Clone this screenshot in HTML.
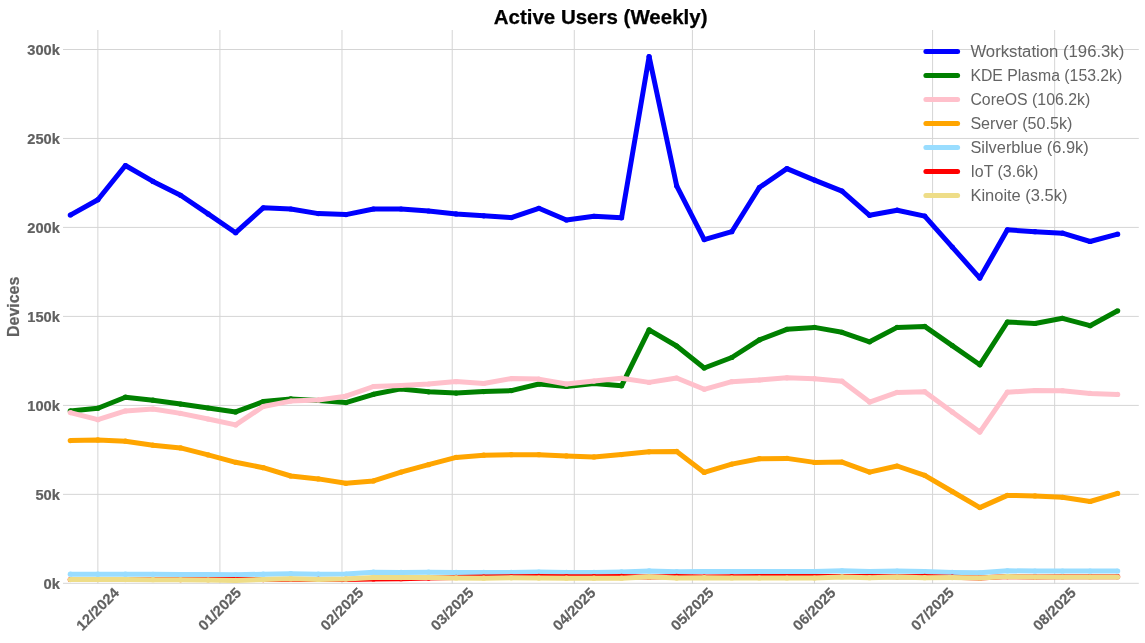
<!DOCTYPE html>
<html><head><meta charset="utf-8"><title>Active Users (Weekly)</title>
<style>html,body{margin:0;padding:0;background:#fff;}body{width:1145px;height:643px;overflow:hidden;}svg{display:block;will-change:transform;}text{font-family:"Liberation Sans",sans-serif;}.b{stroke:#616161;stroke-width:0.2px;}.t{stroke:#000;stroke-width:0.25px;}</style></head><body>
<svg width="1145" height="643" viewBox="0 0 1145 643">
<rect x="0" y="0" width="1145" height="643" fill="#ffffff"/>
<g stroke="#d5d5d5" stroke-width="1" fill="none">
<line x1="97.86" y1="30.0" x2="97.86" y2="583.8"/>
<line x1="219.92" y1="30.0" x2="219.92" y2="583.8"/>
<line x1="341.98" y1="30.0" x2="341.98" y2="583.8"/>
<line x1="452.23" y1="30.0" x2="452.23" y2="583.8"/>
<line x1="574.29" y1="30.0" x2="574.29" y2="583.8"/>
<line x1="692.41" y1="30.0" x2="692.41" y2="583.8"/>
<line x1="814.47" y1="30.0" x2="814.47" y2="583.8"/>
<line x1="932.59" y1="30.0" x2="932.59" y2="583.8"/>
<line x1="1054.65" y1="30.0" x2="1054.65" y2="583.8"/>
<line x1="63.0" y1="49.5" x2="1138.8" y2="49.5"/>
<line x1="63.0" y1="138.45" x2="1138.8" y2="138.45"/>
<line x1="63.0" y1="227.4" x2="1138.8" y2="227.4"/>
<line x1="63.0" y1="316.4" x2="1138.8" y2="316.4"/>
<line x1="63.0" y1="405.4" x2="1138.8" y2="405.4"/>
<line x1="63.0" y1="494.35" x2="1138.8" y2="494.35"/>
<line x1="63.0" y1="583.3" x2="1138.8" y2="583.3"/>
</g>
<text class="t" x="600.6" y="24.1" font-size="19.8" font-weight="bold" fill="#000" text-anchor="middle" textLength="213.7" lengthAdjust="spacingAndGlyphs">Active Users (Weekly)</text>
<text class="b" transform="translate(19.3 306.8) rotate(-90)" font-size="16" font-weight="bold" fill="#616161" text-anchor="middle" textLength="60.2" lengthAdjust="spacingAndGlyphs">Devices</text>
<text class="b" x="59.9" y="55.2" font-size="14" font-weight="bold" fill="#616161" text-anchor="end" textLength="32.6" lengthAdjust="spacingAndGlyphs">300k</text>
<text class="b" x="59.9" y="144.2" font-size="14" font-weight="bold" fill="#616161" text-anchor="end" textLength="32.6" lengthAdjust="spacingAndGlyphs">250k</text>
<text class="b" x="59.9" y="233.2" font-size="14" font-weight="bold" fill="#616161" text-anchor="end" textLength="32.6" lengthAdjust="spacingAndGlyphs">200k</text>
<text class="b" x="59.9" y="322.2" font-size="14" font-weight="bold" fill="#616161" text-anchor="end" textLength="32.6" lengthAdjust="spacingAndGlyphs">150k</text>
<text class="b" x="59.9" y="411.2" font-size="14" font-weight="bold" fill="#616161" text-anchor="end" textLength="32.6" lengthAdjust="spacingAndGlyphs">100k</text>
<text class="b" x="59.9" y="500.2" font-size="14" font-weight="bold" fill="#616161" text-anchor="end" textLength="24.5" lengthAdjust="spacingAndGlyphs">50k</text>
<text class="b" x="59.9" y="589.2" font-size="14" font-weight="bold" fill="#616161" text-anchor="end" textLength="16.4" lengthAdjust="spacingAndGlyphs">0k</text>
<text class="b" transform="translate(97.56 608.9) rotate(-45)" font-size="14.5" font-weight="bold" fill="#616161" text-anchor="middle" textLength="53.5" lengthAdjust="spacingAndGlyphs" dy="5.1">12/2024</text>
<text class="b" transform="translate(219.62 608.9) rotate(-45)" font-size="14.5" font-weight="bold" fill="#616161" text-anchor="middle" textLength="53.5" lengthAdjust="spacingAndGlyphs" dy="5.1">01/2025</text>
<text class="b" transform="translate(341.68 608.9) rotate(-45)" font-size="14.5" font-weight="bold" fill="#616161" text-anchor="middle" textLength="53.5" lengthAdjust="spacingAndGlyphs" dy="5.1">02/2025</text>
<text class="b" transform="translate(451.93 608.9) rotate(-45)" font-size="14.5" font-weight="bold" fill="#616161" text-anchor="middle" textLength="53.5" lengthAdjust="spacingAndGlyphs" dy="5.1">03/2025</text>
<text class="b" transform="translate(573.99 608.9) rotate(-45)" font-size="14.5" font-weight="bold" fill="#616161" text-anchor="middle" textLength="53.5" lengthAdjust="spacingAndGlyphs" dy="5.1">04/2025</text>
<text class="b" transform="translate(692.11 608.9) rotate(-45)" font-size="14.5" font-weight="bold" fill="#616161" text-anchor="middle" textLength="53.5" lengthAdjust="spacingAndGlyphs" dy="5.1">05/2025</text>
<text class="b" transform="translate(814.17 608.9) rotate(-45)" font-size="14.5" font-weight="bold" fill="#616161" text-anchor="middle" textLength="53.5" lengthAdjust="spacingAndGlyphs" dy="5.1">06/2025</text>
<text class="b" transform="translate(932.29 608.9) rotate(-45)" font-size="14.5" font-weight="bold" fill="#616161" text-anchor="middle" textLength="53.5" lengthAdjust="spacingAndGlyphs" dy="5.1">07/2025</text>
<text class="b" transform="translate(1054.35 608.9) rotate(-45)" font-size="14.5" font-weight="bold" fill="#616161" text-anchor="middle" textLength="53.5" lengthAdjust="spacingAndGlyphs" dy="5.1">08/2025</text>
<g fill="none" stroke-width="5" stroke-linecap="butt" stroke-linejoin="round">
<polyline stroke="#0000ff" points="70.30,215.1 97.86,199.7 125.42,165.5 152.99,181.4 180.55,195.3 208.11,213.9 235.67,232.7 263.23,207.8 290.79,209.0 318.36,213.6 345.92,214.6 373.48,209.0 401.04,209.0 428.60,211.0 456.17,213.9 483.73,215.8 511.29,217.6 538.85,208.3 566.41,220.0 593.97,216.3 621.54,217.8 649.10,56.6 676.66,185.8 704.22,239.6 731.78,231.7 759.35,187.5 786.91,168.6 814.47,180.1 842.03,191.1 869.59,215.3 897.15,210.2 924.72,216.1 952.28,247.1 979.84,278.1 1007.40,229.8 1034.96,231.7 1062.52,233.2 1090.09,241.5 1117.65,234.2"/>
<g fill="#0000ff" stroke="none"><circle cx="70.30" cy="215.1" r="2.6"/><circle cx="97.86" cy="199.7" r="2.6"/><circle cx="125.42" cy="165.5" r="2.6"/><circle cx="152.99" cy="181.4" r="2.6"/><circle cx="180.55" cy="195.3" r="2.6"/><circle cx="208.11" cy="213.9" r="2.6"/><circle cx="235.67" cy="232.7" r="2.6"/><circle cx="263.23" cy="207.8" r="2.6"/><circle cx="290.79" cy="209.0" r="2.6"/><circle cx="318.36" cy="213.6" r="2.6"/><circle cx="345.92" cy="214.6" r="2.6"/><circle cx="373.48" cy="209.0" r="2.6"/><circle cx="401.04" cy="209.0" r="2.6"/><circle cx="428.60" cy="211.0" r="2.6"/><circle cx="456.17" cy="213.9" r="2.6"/><circle cx="483.73" cy="215.8" r="2.6"/><circle cx="511.29" cy="217.6" r="2.6"/><circle cx="538.85" cy="208.3" r="2.6"/><circle cx="566.41" cy="220.0" r="2.6"/><circle cx="593.97" cy="216.3" r="2.6"/><circle cx="621.54" cy="217.8" r="2.6"/><circle cx="649.10" cy="56.6" r="2.6"/><circle cx="676.66" cy="185.8" r="2.6"/><circle cx="704.22" cy="239.6" r="2.6"/><circle cx="731.78" cy="231.7" r="2.6"/><circle cx="759.35" cy="187.5" r="2.6"/><circle cx="786.91" cy="168.6" r="2.6"/><circle cx="814.47" cy="180.1" r="2.6"/><circle cx="842.03" cy="191.1" r="2.6"/><circle cx="869.59" cy="215.3" r="2.6"/><circle cx="897.15" cy="210.2" r="2.6"/><circle cx="924.72" cy="216.1" r="2.6"/><circle cx="952.28" cy="247.1" r="2.6"/><circle cx="979.84" cy="278.1" r="2.6"/><circle cx="1007.40" cy="229.8" r="2.6"/><circle cx="1034.96" cy="231.7" r="2.6"/><circle cx="1062.52" cy="233.2" r="2.6"/><circle cx="1090.09" cy="241.5" r="2.6"/><circle cx="1117.65" cy="234.2" r="2.6"/></g>
<polyline stroke="#008000" points="70.30,410.9 97.86,408.2 125.42,397.2 152.99,400.2 180.55,404.1 208.11,408.0 235.67,411.9 263.23,401.6 290.79,398.9 318.36,400.4 345.92,402.6 373.48,394.3 401.04,388.9 428.60,391.8 456.17,393.1 483.73,391.6 511.29,390.6 538.85,384.0 566.41,386.5 593.97,383.5 621.54,385.8 649.10,329.8 676.66,346.0 704.22,368.0 731.78,357.5 759.35,339.9 786.91,329.3 814.47,327.4 842.03,332.3 869.59,341.8 897.15,327.4 924.72,326.4 952.28,345.6 979.84,364.8 1007.40,322.0 1034.96,323.5 1062.52,318.3 1090.09,325.7 1117.65,310.8"/>
<g fill="#008000" stroke="none"><circle cx="70.30" cy="410.9" r="2.6"/><circle cx="97.86" cy="408.2" r="2.6"/><circle cx="125.42" cy="397.2" r="2.6"/><circle cx="152.99" cy="400.2" r="2.6"/><circle cx="180.55" cy="404.1" r="2.6"/><circle cx="208.11" cy="408.0" r="2.6"/><circle cx="235.67" cy="411.9" r="2.6"/><circle cx="263.23" cy="401.6" r="2.6"/><circle cx="290.79" cy="398.9" r="2.6"/><circle cx="318.36" cy="400.4" r="2.6"/><circle cx="345.92" cy="402.6" r="2.6"/><circle cx="373.48" cy="394.3" r="2.6"/><circle cx="401.04" cy="388.9" r="2.6"/><circle cx="428.60" cy="391.8" r="2.6"/><circle cx="456.17" cy="393.1" r="2.6"/><circle cx="483.73" cy="391.6" r="2.6"/><circle cx="511.29" cy="390.6" r="2.6"/><circle cx="538.85" cy="384.0" r="2.6"/><circle cx="566.41" cy="386.5" r="2.6"/><circle cx="593.97" cy="383.5" r="2.6"/><circle cx="621.54" cy="385.8" r="2.6"/><circle cx="649.10" cy="329.8" r="2.6"/><circle cx="676.66" cy="346.0" r="2.6"/><circle cx="704.22" cy="368.0" r="2.6"/><circle cx="731.78" cy="357.5" r="2.6"/><circle cx="759.35" cy="339.9" r="2.6"/><circle cx="786.91" cy="329.3" r="2.6"/><circle cx="814.47" cy="327.4" r="2.6"/><circle cx="842.03" cy="332.3" r="2.6"/><circle cx="869.59" cy="341.8" r="2.6"/><circle cx="897.15" cy="327.4" r="2.6"/><circle cx="924.72" cy="326.4" r="2.6"/><circle cx="952.28" cy="345.6" r="2.6"/><circle cx="979.84" cy="364.8" r="2.6"/><circle cx="1007.40" cy="322.0" r="2.6"/><circle cx="1034.96" cy="323.5" r="2.6"/><circle cx="1062.52" cy="318.3" r="2.6"/><circle cx="1090.09" cy="325.7" r="2.6"/><circle cx="1117.65" cy="310.8" r="2.6"/></g>
<polyline stroke="#ffc0cb" points="70.30,412.6 97.86,419.7 125.42,410.9 152.99,409.0 180.55,413.4 208.11,419.0 235.67,424.9 263.23,406.5 290.79,401.1 318.36,399.9 345.92,396.2 373.48,386.5 401.04,385.5 428.60,384.0 456.17,381.6 483.73,383.5 511.29,378.6 538.85,379.1 566.41,384.0 593.97,381.1 621.54,378.3 649.10,382.4 676.66,378.0 704.22,389.3 731.78,381.7 759.35,380.0 786.91,377.8 814.47,378.7 842.03,381.2 869.59,402.1 897.15,392.4 924.72,391.7 952.28,411.9 979.84,432.1 1007.40,392.2 1034.96,390.5 1062.52,390.7 1090.09,393.4 1117.65,394.4"/>
<g fill="#ffc0cb" stroke="none"><circle cx="70.30" cy="412.6" r="2.6"/><circle cx="97.86" cy="419.7" r="2.6"/><circle cx="125.42" cy="410.9" r="2.6"/><circle cx="152.99" cy="409.0" r="2.6"/><circle cx="180.55" cy="413.4" r="2.6"/><circle cx="208.11" cy="419.0" r="2.6"/><circle cx="235.67" cy="424.9" r="2.6"/><circle cx="263.23" cy="406.5" r="2.6"/><circle cx="290.79" cy="401.1" r="2.6"/><circle cx="318.36" cy="399.9" r="2.6"/><circle cx="345.92" cy="396.2" r="2.6"/><circle cx="373.48" cy="386.5" r="2.6"/><circle cx="401.04" cy="385.5" r="2.6"/><circle cx="428.60" cy="384.0" r="2.6"/><circle cx="456.17" cy="381.6" r="2.6"/><circle cx="483.73" cy="383.5" r="2.6"/><circle cx="511.29" cy="378.6" r="2.6"/><circle cx="538.85" cy="379.1" r="2.6"/><circle cx="566.41" cy="384.0" r="2.6"/><circle cx="593.97" cy="381.1" r="2.6"/><circle cx="621.54" cy="378.3" r="2.6"/><circle cx="649.10" cy="382.4" r="2.6"/><circle cx="676.66" cy="378.0" r="2.6"/><circle cx="704.22" cy="389.3" r="2.6"/><circle cx="731.78" cy="381.7" r="2.6"/><circle cx="759.35" cy="380.0" r="2.6"/><circle cx="786.91" cy="377.8" r="2.6"/><circle cx="814.47" cy="378.7" r="2.6"/><circle cx="842.03" cy="381.2" r="2.6"/><circle cx="869.59" cy="402.1" r="2.6"/><circle cx="897.15" cy="392.4" r="2.6"/><circle cx="924.72" cy="391.7" r="2.6"/><circle cx="952.28" cy="411.9" r="2.6"/><circle cx="979.84" cy="432.1" r="2.6"/><circle cx="1007.40" cy="392.2" r="2.6"/><circle cx="1034.96" cy="390.5" r="2.6"/><circle cx="1062.52" cy="390.7" r="2.6"/><circle cx="1090.09" cy="393.4" r="2.6"/><circle cx="1117.65" cy="394.4" r="2.6"/></g>
<polyline stroke="#ffa500" points="70.30,440.6 97.86,439.9 125.42,441.2 152.99,445.2 180.55,447.9 208.11,454.9 235.67,462.3 263.23,467.7 290.79,476.0 318.36,478.9 345.92,483.3 373.48,480.9 401.04,472.1 428.60,464.7 456.17,457.4 483.73,455.2 511.29,454.7 538.85,454.7 566.41,455.9 593.97,456.9 621.54,454.6 649.10,451.8 676.66,451.4 704.22,472.4 731.78,464.1 759.35,458.7 786.91,458.4 814.47,462.4 842.03,462.1 869.59,472.1 897.15,466.0 924.72,475.3 952.28,491.5 979.84,507.6 1007.40,495.4 1034.96,495.9 1062.52,497.3 1090.09,501.5 1117.65,493.4"/>
<g fill="#ffa500" stroke="none"><circle cx="70.30" cy="440.6" r="2.6"/><circle cx="97.86" cy="439.9" r="2.6"/><circle cx="125.42" cy="441.2" r="2.6"/><circle cx="152.99" cy="445.2" r="2.6"/><circle cx="180.55" cy="447.9" r="2.6"/><circle cx="208.11" cy="454.9" r="2.6"/><circle cx="235.67" cy="462.3" r="2.6"/><circle cx="263.23" cy="467.7" r="2.6"/><circle cx="290.79" cy="476.0" r="2.6"/><circle cx="318.36" cy="478.9" r="2.6"/><circle cx="345.92" cy="483.3" r="2.6"/><circle cx="373.48" cy="480.9" r="2.6"/><circle cx="401.04" cy="472.1" r="2.6"/><circle cx="428.60" cy="464.7" r="2.6"/><circle cx="456.17" cy="457.4" r="2.6"/><circle cx="483.73" cy="455.2" r="2.6"/><circle cx="511.29" cy="454.7" r="2.6"/><circle cx="538.85" cy="454.7" r="2.6"/><circle cx="566.41" cy="455.9" r="2.6"/><circle cx="593.97" cy="456.9" r="2.6"/><circle cx="621.54" cy="454.6" r="2.6"/><circle cx="649.10" cy="451.8" r="2.6"/><circle cx="676.66" cy="451.4" r="2.6"/><circle cx="704.22" cy="472.4" r="2.6"/><circle cx="731.78" cy="464.1" r="2.6"/><circle cx="759.35" cy="458.7" r="2.6"/><circle cx="786.91" cy="458.4" r="2.6"/><circle cx="814.47" cy="462.4" r="2.6"/><circle cx="842.03" cy="462.1" r="2.6"/><circle cx="869.59" cy="472.1" r="2.6"/><circle cx="897.15" cy="466.0" r="2.6"/><circle cx="924.72" cy="475.3" r="2.6"/><circle cx="952.28" cy="491.5" r="2.6"/><circle cx="979.84" cy="507.6" r="2.6"/><circle cx="1007.40" cy="495.4" r="2.6"/><circle cx="1034.96" cy="495.9" r="2.6"/><circle cx="1062.52" cy="497.3" r="2.6"/><circle cx="1090.09" cy="501.5" r="2.6"/><circle cx="1117.65" cy="493.4" r="2.6"/></g>
<polyline stroke="#99ddff" points="70.30,574.2 97.86,574.2 125.42,574.2 152.99,574.3 180.55,574.5 208.11,574.6 235.67,574.8 263.23,574.2 290.79,573.7 318.36,574.2 345.92,574.0 373.48,572.2 401.04,572.4 428.60,572.2 456.17,572.4 483.73,572.4 511.29,572.4 538.85,572.0 566.41,572.4 593.97,572.4 621.54,571.9 649.10,570.9 676.66,571.7 704.22,571.5 731.78,571.6 759.35,571.5 786.91,571.6 814.47,571.6 842.03,570.8 869.59,571.5 897.15,571.0 924.72,571.6 952.28,572.4 979.84,572.8 1007.40,570.8 1034.96,571.0 1062.52,571.0 1090.09,571.0 1117.65,571.0"/>
<g fill="#99ddff" stroke="none"><circle cx="70.30" cy="574.2" r="2.6"/><circle cx="97.86" cy="574.2" r="2.6"/><circle cx="125.42" cy="574.2" r="2.6"/><circle cx="152.99" cy="574.3" r="2.6"/><circle cx="180.55" cy="574.5" r="2.6"/><circle cx="208.11" cy="574.6" r="2.6"/><circle cx="235.67" cy="574.8" r="2.6"/><circle cx="263.23" cy="574.2" r="2.6"/><circle cx="290.79" cy="573.7" r="2.6"/><circle cx="318.36" cy="574.2" r="2.6"/><circle cx="345.92" cy="574.0" r="2.6"/><circle cx="373.48" cy="572.2" r="2.6"/><circle cx="401.04" cy="572.4" r="2.6"/><circle cx="428.60" cy="572.2" r="2.6"/><circle cx="456.17" cy="572.4" r="2.6"/><circle cx="483.73" cy="572.4" r="2.6"/><circle cx="511.29" cy="572.4" r="2.6"/><circle cx="538.85" cy="572.0" r="2.6"/><circle cx="566.41" cy="572.4" r="2.6"/><circle cx="593.97" cy="572.4" r="2.6"/><circle cx="621.54" cy="571.9" r="2.6"/><circle cx="649.10" cy="570.9" r="2.6"/><circle cx="676.66" cy="571.7" r="2.6"/><circle cx="704.22" cy="571.5" r="2.6"/><circle cx="731.78" cy="571.6" r="2.6"/><circle cx="759.35" cy="571.5" r="2.6"/><circle cx="786.91" cy="571.6" r="2.6"/><circle cx="814.47" cy="571.6" r="2.6"/><circle cx="842.03" cy="570.8" r="2.6"/><circle cx="869.59" cy="571.5" r="2.6"/><circle cx="897.15" cy="571.0" r="2.6"/><circle cx="924.72" cy="571.6" r="2.6"/><circle cx="952.28" cy="572.4" r="2.6"/><circle cx="979.84" cy="572.8" r="2.6"/><circle cx="1007.40" cy="570.8" r="2.6"/><circle cx="1034.96" cy="571.0" r="2.6"/><circle cx="1062.52" cy="571.0" r="2.6"/><circle cx="1090.09" cy="571.0" r="2.6"/><circle cx="1117.65" cy="571.0" r="2.6"/></g>
<polyline stroke="#ff0000" points="70.30,579.5 97.86,579.5 125.42,579.5 152.99,579.5 180.55,579.6 208.11,579.6 235.67,579.6 263.23,579.6 290.79,579.4 318.36,579.4 345.92,579.4 373.48,579.0 401.04,578.7 428.60,578.1 456.17,577.4 483.73,577.0 511.29,576.8 538.85,576.4 566.41,576.7 593.97,576.7 621.54,576.4 649.10,576.9 676.66,576.4 704.22,577.0 731.78,576.7 759.35,576.5 786.91,576.5 814.47,576.5 842.03,576.5 869.59,576.5 897.15,576.8 924.72,576.4 952.28,577.2 979.84,577.9 1007.40,576.6 1034.96,576.9 1062.52,576.7 1090.09,576.7 1117.65,576.7"/>
<g fill="#ff0000" stroke="none"><circle cx="70.30" cy="579.5" r="2.6"/><circle cx="97.86" cy="579.5" r="2.6"/><circle cx="125.42" cy="579.5" r="2.6"/><circle cx="152.99" cy="579.5" r="2.6"/><circle cx="180.55" cy="579.6" r="2.6"/><circle cx="208.11" cy="579.6" r="2.6"/><circle cx="235.67" cy="579.6" r="2.6"/><circle cx="263.23" cy="579.6" r="2.6"/><circle cx="290.79" cy="579.4" r="2.6"/><circle cx="318.36" cy="579.4" r="2.6"/><circle cx="345.92" cy="579.4" r="2.6"/><circle cx="373.48" cy="579.0" r="2.6"/><circle cx="401.04" cy="578.7" r="2.6"/><circle cx="428.60" cy="578.1" r="2.6"/><circle cx="456.17" cy="577.4" r="2.6"/><circle cx="483.73" cy="577.0" r="2.6"/><circle cx="511.29" cy="576.8" r="2.6"/><circle cx="538.85" cy="576.4" r="2.6"/><circle cx="566.41" cy="576.7" r="2.6"/><circle cx="593.97" cy="576.7" r="2.6"/><circle cx="621.54" cy="576.4" r="2.6"/><circle cx="649.10" cy="576.9" r="2.6"/><circle cx="676.66" cy="576.4" r="2.6"/><circle cx="704.22" cy="577.0" r="2.6"/><circle cx="731.78" cy="576.7" r="2.6"/><circle cx="759.35" cy="576.5" r="2.6"/><circle cx="786.91" cy="576.5" r="2.6"/><circle cx="814.47" cy="576.5" r="2.6"/><circle cx="842.03" cy="576.5" r="2.6"/><circle cx="869.59" cy="576.5" r="2.6"/><circle cx="897.15" cy="576.8" r="2.6"/><circle cx="924.72" cy="576.4" r="2.6"/><circle cx="952.28" cy="577.2" r="2.6"/><circle cx="979.84" cy="577.9" r="2.6"/><circle cx="1007.40" cy="576.6" r="2.6"/><circle cx="1034.96" cy="576.9" r="2.6"/><circle cx="1062.52" cy="576.7" r="2.6"/><circle cx="1090.09" cy="576.7" r="2.6"/><circle cx="1117.65" cy="576.7" r="2.6"/></g>
<polyline stroke="#eedd88" points="70.30,579.6 97.86,579.6 125.42,579.6 152.99,579.7 180.55,579.8 208.11,580.0 235.67,580.4 263.23,579.6 290.79,578.7 318.36,579.4 345.92,578.9 373.48,577.4 401.04,577.6 428.60,577.4 456.17,577.9 483.73,578.2 511.29,577.8 538.85,578.1 566.41,578.2 593.97,578.2 621.54,578.2 649.10,576.8 676.66,578.1 704.22,577.7 731.78,578.0 759.35,578.0 786.91,578.0 814.47,578.0 842.03,576.9 869.59,577.7 897.15,577.0 924.72,577.7 952.28,577.6 979.84,578.0 1007.40,576.5 1034.96,577.1 1062.52,577.0 1090.09,577.0 1117.65,577.0"/>
<g fill="#eedd88" stroke="none"><circle cx="70.30" cy="579.6" r="2.6"/><circle cx="97.86" cy="579.6" r="2.6"/><circle cx="125.42" cy="579.6" r="2.6"/><circle cx="152.99" cy="579.7" r="2.6"/><circle cx="180.55" cy="579.8" r="2.6"/><circle cx="208.11" cy="580.0" r="2.6"/><circle cx="235.67" cy="580.4" r="2.6"/><circle cx="263.23" cy="579.6" r="2.6"/><circle cx="290.79" cy="578.7" r="2.6"/><circle cx="318.36" cy="579.4" r="2.6"/><circle cx="345.92" cy="578.9" r="2.6"/><circle cx="373.48" cy="577.4" r="2.6"/><circle cx="401.04" cy="577.6" r="2.6"/><circle cx="428.60" cy="577.4" r="2.6"/><circle cx="456.17" cy="577.9" r="2.6"/><circle cx="483.73" cy="578.2" r="2.6"/><circle cx="511.29" cy="577.8" r="2.6"/><circle cx="538.85" cy="578.1" r="2.6"/><circle cx="566.41" cy="578.2" r="2.6"/><circle cx="593.97" cy="578.2" r="2.6"/><circle cx="621.54" cy="578.2" r="2.6"/><circle cx="649.10" cy="576.8" r="2.6"/><circle cx="676.66" cy="578.1" r="2.6"/><circle cx="704.22" cy="577.7" r="2.6"/><circle cx="731.78" cy="578.0" r="2.6"/><circle cx="759.35" cy="578.0" r="2.6"/><circle cx="786.91" cy="578.0" r="2.6"/><circle cx="814.47" cy="578.0" r="2.6"/><circle cx="842.03" cy="576.9" r="2.6"/><circle cx="869.59" cy="577.7" r="2.6"/><circle cx="897.15" cy="577.0" r="2.6"/><circle cx="924.72" cy="577.7" r="2.6"/><circle cx="952.28" cy="577.6" r="2.6"/><circle cx="979.84" cy="578.0" r="2.6"/><circle cx="1007.40" cy="576.5" r="2.6"/><circle cx="1034.96" cy="577.1" r="2.6"/><circle cx="1062.52" cy="577.0" r="2.6"/><circle cx="1090.09" cy="577.0" r="2.6"/><circle cx="1117.65" cy="577.0" r="2.6"/></g>
</g>
<g>
<line x1="925.9" y1="51.4" x2="957.6" y2="51.4" stroke="#0000ff" stroke-width="5" stroke-linecap="round"/>
<text x="970.4" y="57.0" font-size="16" fill="#646464" textLength="153.9" lengthAdjust="spacingAndGlyphs">Workstation (196.3k)</text>
<line x1="925.9" y1="75.4" x2="957.6" y2="75.4" stroke="#008000" stroke-width="5" stroke-linecap="round"/>
<text x="970.4" y="81.0" font-size="16" fill="#646464" textLength="151.9" lengthAdjust="spacingAndGlyphs">KDE Plasma (153.2k)</text>
<line x1="925.9" y1="99.5" x2="957.6" y2="99.5" stroke="#ffc0cb" stroke-width="5" stroke-linecap="round"/>
<text x="970.4" y="105.1" font-size="16" fill="#646464" textLength="119.8" lengthAdjust="spacingAndGlyphs">CoreOS (106.2k)</text>
<line x1="925.9" y1="123.5" x2="957.6" y2="123.5" stroke="#ffa500" stroke-width="5" stroke-linecap="round"/>
<text x="970.4" y="129.1" font-size="16" fill="#646464" textLength="101.9" lengthAdjust="spacingAndGlyphs">Server (50.5k)</text>
<line x1="925.9" y1="147.5" x2="957.6" y2="147.5" stroke="#99ddff" stroke-width="5" stroke-linecap="round"/>
<text x="970.4" y="153.1" font-size="16" fill="#646464" textLength="118.3" lengthAdjust="spacingAndGlyphs">Silverblue (6.9k)</text>
<line x1="925.9" y1="171.6" x2="957.6" y2="171.6" stroke="#ff0000" stroke-width="5" stroke-linecap="round"/>
<text x="970.4" y="177.2" font-size="16" fill="#646464" textLength="67.9" lengthAdjust="spacingAndGlyphs">IoT (3.6k)</text>
<line x1="925.9" y1="195.6" x2="957.6" y2="195.6" stroke="#eedd88" stroke-width="5" stroke-linecap="round"/>
<text x="970.4" y="201.2" font-size="16" fill="#646464" textLength="97.1" lengthAdjust="spacingAndGlyphs">Kinoite (3.5k)</text>
</g>
</svg></body></html>
